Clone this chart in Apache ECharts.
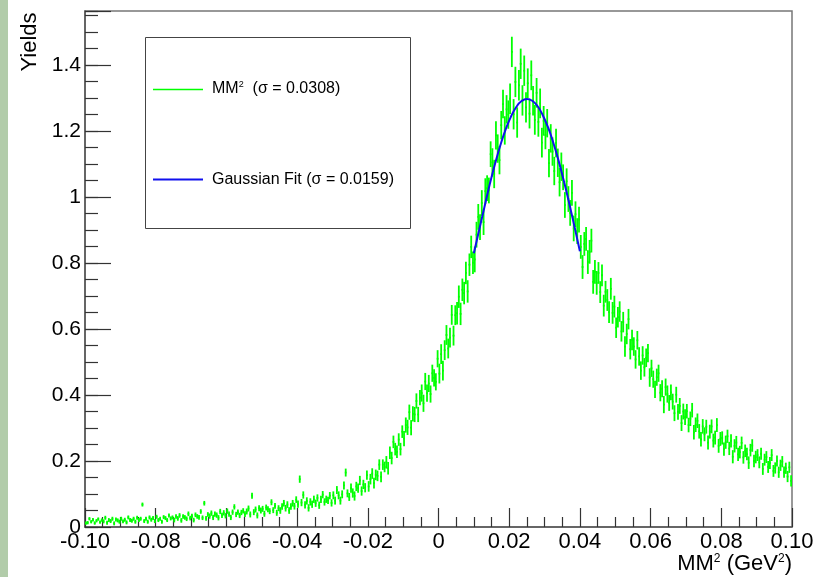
<!DOCTYPE html>
<html><head><meta charset="utf-8">
<script src="https://cdn.jsdelivr.net/npm/echarts@6/dist/echarts.min.js"></script>
<style>html,body{margin:0;padding:0;background:#fff}#c{width:819px;height:577px}</style>
</head><body><div id="c"></div>
<script>
// ---- data ----
const xTickLabels = ['-0.10','-0.08','-0.06','-0.04','-0.02','0','0.02','0.04','0.06','0.08','0.10'];
const yTickLabels = ['0','0.2','0.4','0.6','0.8','1','1.2','1.4'];
const binLow = -0.10, binWidth = 0.0005;   // 400 bins from -0.10 to 0.10
// bin contents (Yields x 1000)
const yieldsMilli = [
12,13,25,16,22,12,19,24,15,21,
17,28,13,21,18,25,11,23,20,16,
25,17,22,14,29,21,19,25,16,28,
21,25,68,18,25,16,29,22,27,18,
31,21,25,16,30,27,21,35,26,29,
21,32,26,35,20,32,29,25,40,27,
33,21,37,32,29,47,28,72,26,38,
33,42,29,39,36,28,47,35,43,34,
48,39,29,45,61,38,45,35,44,49,
39,47,56,38,95,45,53,35,57,50,
55,40,59,54,48,75,51,64,43,57,
50,62,72,57,68,50,62,72,63,83,
69,145,74,97,67,79,58,76,69,84,
72,88,66,84,98,76,84,81,95,73,
96,80,112,96,80,99,126,165,102,91,
118,103,94,123,118,141,109,129,119,157,
123,145,162,133,158,155,189,152,189,182,
196,178,225,209,258,236,228,265,236,289,
268,309,302,348,301,343,341,382,341,392,
406,375,441,406,435,403,466,452,440,510,
465,524,474,536,582,541,574,643,580,642,
648,698,646,719,709,770,714,795,849,801,
811,886,940,909,982,924,1018,1027,1020,1130,
1105,1070,1187,1147,1112,1218,1282,1202,1266,1250,
1298,1440,1251,1349,1226,1339,1404,1293,1383,1272,
1345,1253,1369,1292,1234,1316,1228,1284,1165,1231,
1188,1224,1103,1178,1138,1079,1164,1104,1045,1092,
1060,976,1048,994,952,1013,905,948,897,932,
849,788,858,873,803,834,868,743,773,740,
770,712,763,671,713,688,651,722,649,668,
604,636,653,593,621,547,585,630,539,567,
547,508,566,517,474,520,484,513,527,453,
481,448,417,454,466,407,419,371,424,403,
376,408,380,345,401,349,367,315,350,333,
351,309,328,354,287,310,322,290,266,305,
281,304,256,289,305,262,271,309,246,267,
270,236,257,275,238,261,213,246,256,220,
227,255,211,231,221,195,233,247,200,212,
218,196,222,176,204,212,182,194,218,170,
179,200,166,187,198,166,178,153,181,140
];
// bin errors (x 1000)
const errorsMilli = [
5,5,5,5,5,5,5,5,5,5,
6,6,6,6,6,6,6,6,6,6,
6,6,6,6,6,6,6,6,6,6,
6,6,6,6,6,6,6,6,6,6,
6,6,6,6,6,6,6,6,6,6,
7,7,7,7,7,7,7,7,7,7,
7,7,7,7,7,7,7,7,7,7,
8,8,8,8,8,8,8,8,8,8,
8,8,8,8,8,8,8,8,8,8,
9,9,9,9,9,9,9,9,9,9,
9,9,9,9,9,9,9,9,9,9,
10,10,10,10,10,10,10,10,10,10,
11,11,11,11,11,11,11,11,11,11,
11,11,11,11,11,11,11,11,11,11,
12,12,12,12,12,12,12,12,12,12,
14,14,14,14,14,14,14,14,14,14,
16,16,16,16,16,16,16,16,16,16,
19,19,19,19,19,19,19,19,19,19,
23,23,23,23,23,23,23,23,23,23,
26,26,26,26,26,26,26,26,26,26,
30,30,30,30,30,30,30,30,30,30,
34,34,34,34,34,34,34,34,34,34,
39,39,39,39,39,39,39,39,39,39,
43,43,43,43,43,43,43,43,43,43,
46,46,46,46,46,46,46,46,46,46,
45,45,45,45,45,45,45,45,45,45,
43,43,43,43,43,43,43,43,43,43,
39,39,39,39,39,39,39,39,39,39,
36,36,36,36,36,36,36,36,36,36,
33,33,33,33,33,33,33,33,33,33,
31,31,31,31,31,31,31,31,31,31,
28,28,28,28,28,28,28,28,28,28,
26,26,26,26,26,26,26,26,26,26,
24,24,24,24,24,24,24,24,24,24,
22,22,22,22,22,22,22,22,22,22,
21,21,21,21,21,21,21,21,21,21,
20,20,20,20,20,20,20,20,20,20,
19,19,19,19,19,19,19,19,19,19,
18,18,18,18,18,18,18,18,18,18,
17,17,17,17,17,17,17,17,17,17
];
// Gaussian fit curve points
const fitX = [0.0100,0.0115,0.0130,0.0145,0.0160,0.0175,0.0190,0.0205,0.0220,0.0235,0.0250,0.0265,0.0280,0.0295,0.0310,0.0325,0.0340,0.0355,0.0370,0.0385,0.0400];
const fitY = [0.830,0.900,0.970,1.039,1.101,1.157,1.205,1.244,1.273,1.291,1.297,1.292,1.276,1.248,1.211,1.164,1.109,1.047,0.980,0.909,0.836];

// ---- chart ----
const FONT = '"Liberation Sans", Arial, Helvetica, sans-serif';
const histData = yieldsMilli.map((y, i) => [binLow + binWidth * (i + 0.5), y / 1000, errorsMilli[i] / 1000]);
const fitData = fitX.map((x, i) => [x, fitY[i]]);
const chart = echarts.init(document.getElementById('c'), null, {renderer: 'canvas'});
const Y_MAX = 1.564;
chart.setOption({
  animation: false,
  backgroundColor: '#ffffff',
  grid: {left: 85, right: 27, top: 11, bottom: 50, show: true, borderColor: '#777', borderWidth: 1.5, backgroundColor: 'transparent'},
  xAxis: [{
    type: 'value', min: -0.1, max: 0.1, interval: 0.02,
    axisLine: {show: true, onZero: false, lineStyle: {color: '#555', width: 1.5}},
    axisTick: {show: true, inside: true, length: 19, lineStyle: {color: '#333', width: 1.2}},
    minorTick: {show: true, splitNumber: 4, length: 10, lineStyle: {color: '#333', width: 1.2}},
    splitLine: {show: false},
    axisLabel: {
      color: '#000', fontSize: 22, fontFamily: FONT, margin: 4, showMinLabel: true, showMaxLabel: true,
      formatter: v => { const k = Math.round((v + 0.1) / 0.02); return Math.abs(v - (-0.1 + 0.02 * k)) < 1e-6 ? (xTickLabels[k] || '') : ''; }
    }
  }],
  yAxis: [{
    type: 'value', min: 0, max: Y_MAX, interval: 0.2, position: 'left',
    axisLine: {show: true, onZero: false, lineStyle: {color: '#555', width: 1.5}},
    axisTick: {show: true, inside: true, length: 26, lineStyle: {color: '#333', width: 1.2}},
    splitLine: {show: false},
    axisLabel: {
      color: '#000', fontSize: 21, fontFamily: FONT, margin: 4,
      formatter: v => { const k = Math.round(v / 0.2); return Math.abs(v - 0.2 * k) < 1e-6 ? (yTickLabels[k] || '') : ''; }
    }
  }, {
    type: 'value', min: 0, max: Y_MAX, interval: 0.05, position: 'left',
    axisLine: {show: false, onZero: false},
    axisTick: {show: true, inside: true, length: 13, lineStyle: {color: '#333', width: 1.2}},
    splitLine: {show: false},
    axisLabel: {show: false}
  }],
  series: [{
    type: 'custom', name: 'hist', xAxisIndex: 0, yAxisIndex: 0, clip: true,
    data: histData,
    encode: {x: 0, y: 1},
    renderItem: (params, api) => {
      const x = api.value(0), y = api.value(1), e = api.value(2);
      const p1 = api.coord([x - binWidth / 2, y]), p2 = api.coord([x + binWidth / 2, y]);
      const t = api.coord([x, y + e]), b = api.coord([x, y - e]);
      const st = {stroke: '#00ff00', lineWidth: 1.8};
      return {type: 'group', children: [
        {type: 'line', shape: {x1: p1[0], y1: p1[1], x2: p2[0], y2: p2[1]}, style: st},
        {type: 'line', shape: {x1: t[0], y1: t[1], x2: b[0], y2: b[1]}, style: st}
      ]};
    }
  }, {
    type: 'line', name: 'fit', xAxisIndex: 0, yAxisIndex: 0, z: 5,
    data: fitData, smooth: true, showSymbol: false,
    lineStyle: {color: '#1010ee', width: 2}
  }],
  graphic: [
    {type: 'rect', left: 0, top: 0, shape: {x: 0, y: 0, width: 8, height: 577}, style: {fill: '#b2ccaa'}, silent: true},
    {type: 'text', x: 30, y: 42, rotation: Math.PI / 2, style: {text: 'Yields', fill: '#000', font: '22px ' + FONT, textAlign: 'center', textVerticalAlign: 'middle'}},
    {type: 'text', x: 792, y: 564, style: {
      text: 'MM{s|2} (GeV{s|2})', fill: '#000', font: '22px ' + FONT, textAlign: 'right', textVerticalAlign: 'middle',
      rich: {s: {fontSize: 12, fontFamily: FONT, verticalAlign: 'top', padding: [0, 0, 10, 0], fill: '#000'}}
    }},
    {type: 'rect', shape: {x: 145.5, y: 37.5, width: 265, height: 191}, style: {fill: '#fff', stroke: '#444', lineWidth: 1}, z: 10},
    {type: 'line', shape: {x1: 153, y1: 89.5, x2: 203, y2: 89.5}, style: {stroke: '#00ff00', lineWidth: 1.5}, z: 11},
    {type: 'text', x: 212, y: 89, style: {
      text: 'MM{s|2}  (σ = 0.0308)', fill: '#000', font: '16px ' + FONT, textVerticalAlign: 'middle',
      rich: {s: {fontSize: 9, fontFamily: FONT, padding: [0, 0, 8, 0], fill: '#000'}}
    }, z: 11},
    {type: 'line', shape: {x1: 153, y1: 179.5, x2: 203, y2: 179.5}, style: {stroke: '#1010ee', lineWidth: 2}, z: 11},
    {type: 'text', x: 212, y: 180, style: {text: 'Gaussian Fit (σ = 0.0159)', fill: '#000', font: '16px ' + FONT, textVerticalAlign: 'middle'}, z: 11}
  ]
});
</script>
</body></html>
